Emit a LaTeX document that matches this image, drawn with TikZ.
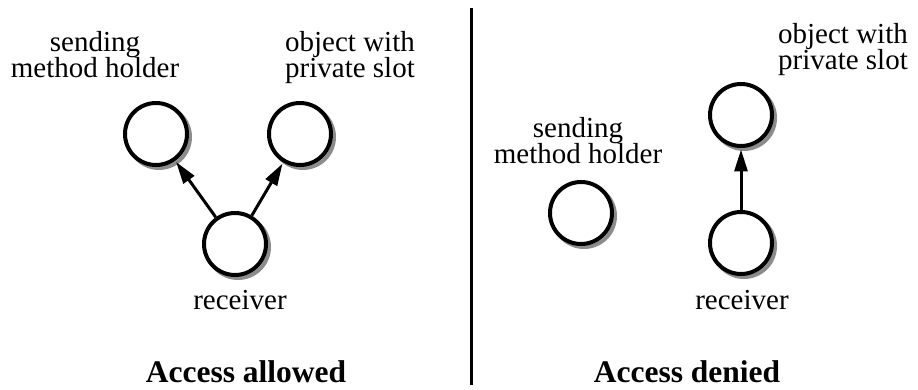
\documentclass[tikz,border=0pt]{standalone}
\usepackage{fontspec}
\setmainfont{Liberation Serif}
\usetikzlibrary{arrows.meta,calc}
\tikzset{
  obj/.style={circle, minimum size=62pt, inner sep=0pt, line width=4pt,
    draw=black, fill=white},
  shadowring/.style={draw=black!45, line width=4pt},
  % base anchor of a two-line label sits on its last line
  lbl/.style={anchor=base, align=center, inner sep=0pt,
    font=\fontsize{29}{26.5}\selectfont},
  caption/.style={anchor=base, inner sep=0pt,
    font=\fontsize{31.5}{33}\selectfont\bfseries},
  ref/.style={line width=3pt, -{Triangle[length=22pt,width=13pt]},
    shorten >=1.5pt},
  divider/.style={line width=3pt}
}
\begin{document}
\begin{tikzpicture}[x=1pt, y=-1pt]
  \useasboundingbox (0,0) rectangle (918,390);

  % object positions
  \coordinate (pSendA) at (156,134);
  \coordinate (pPrivA) at (300,134);
  \coordinate (pRecvA) at (235,244);
  \coordinate (pSendD) at (581,213);
  \coordinate (pPrivD) at (741,115);
  \coordinate (pRecvD) at (741,243);

  % grey rings offset down-right, drawn first so the objects cover them
  \foreach \p in {pSendA,pPrivA,pRecvA,pSendD,pPrivD,pRecvD}
    \draw[shadowring] ($(\p)+(3,3)$) circle[radius=31pt];

  % --- access allowed ---
  \node[obj] (sendA) at (pSendA) {};
  \node[obj] (privA) at (pPrivA) {};
  \node[obj] (recvA) at (pRecvA) {};
  \draw[ref] (recvA) -- (sendA);
  \draw[ref] (recvA) -- (privA);
  \node[lbl] (sendAlbl) at (95,78) {sending\\method holder};
  \node[lbl] (privAlbl) at (350,78) {object with\\private slot};
  \node[lbl] (recvAlbl) at (240,309) {receiver};
  \node[caption] (capA) at (246,382) {Access allowed};

  % --- divider ---
  \coordinate (divTop) at (471,8);
  \coordinate (divBot) at (471,385);
  \draw[divider] (divTop) -- (divBot);

  % --- access denied ---
  \node[obj] (sendD) at (pSendD) {};
  \node[obj] (privD) at (pPrivD) {};
  \node[obj] (recvD) at (pRecvD) {};
  \draw[ref] (recvD) -- (privD);
  \node[lbl] (sendDlbl) at (578,164) {sending\\method holder};
  \node[lbl] (privDlbl) at (843,70) {object with\\private slot};
  \node[lbl] (recvDlbl) at (742,309) {receiver};
  \node[caption] (capD) at (687,382) {Access denied};
\end{tikzpicture}
\end{document}
